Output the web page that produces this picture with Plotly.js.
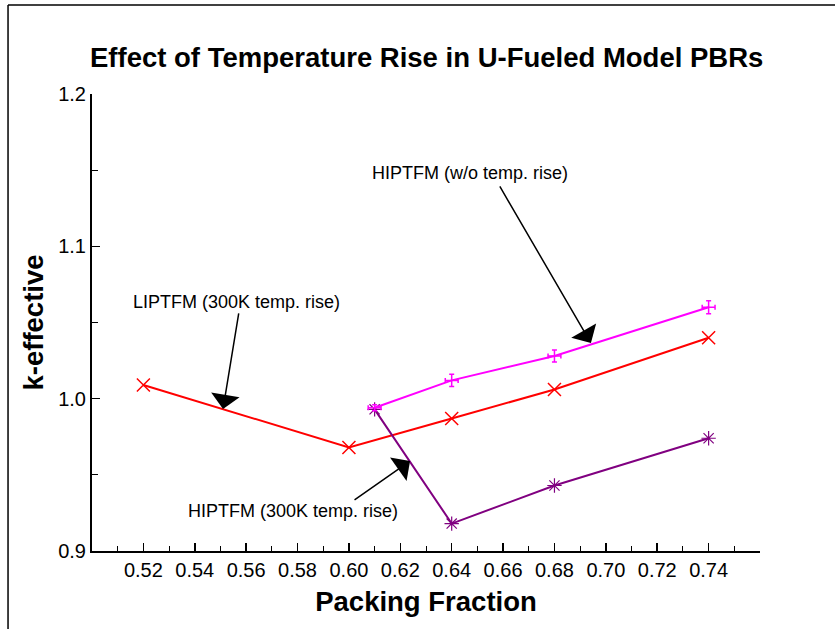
<!DOCTYPE html>
<html>
<head>
<meta charset="utf-8">
<script src="https://cdn.plot.ly/plotly-3.0.1.min.js"></script>
<style>html,body{margin:0;padding:0;background:#fff;}#chart{width:835px;height:629px;}</style>
</head>
<body>
<div id="chart"></div>
<script>
// Data
const lipX = [0.52, 0.60, 0.64, 0.68, 0.74];
const lipK = [1.009, 0.968, 0.987, 1.006, 1.040];

const hipNoRiseX = [0.61, 0.64, 0.68, 0.74];
const hipNoRiseK = [0.994, 1.012, 1.028, 1.060];
const hipNoRiseErr = [0.002, 0.004, 0.004, 0.0043];
const hipNoRiseErrX = [0.0025, 0.0025, 0.0025, 0.0025];

const hipRiseX = [0.61, 0.64, 0.68, 0.74];
const hipRiseK = [0.993, 0.918, 0.943, 0.974];

const xTickVals = [0.52, 0.54, 0.56, 0.58, 0.60, 0.62, 0.64, 0.66, 0.68, 0.70, 0.72, 0.74];
const xTickText = ["0.52","0.54","0.56","0.58","0.60","0.62","0.64","0.66","0.68","0.70","0.72","0.74"];
const yTickVals = [0.9, 1.0, 1.1, 1.2];
const yTickText = ["0.9", "1.0", "1.1", "1.2"];

const FONT = "Liberation Sans, Arial, Helvetica, sans-serif";

const traces = [
  {
    x: lipX, y: lipK, type: 'scatter', mode: 'lines+markers',
    line: {color: '#ff0000', width: 2},
    marker: {symbol: 'x-thin-open', size: 13, color: '#ff0000', line: {color: '#ff0000', width: 1.5}},
    showlegend: false
  },
  {
    x: hipRiseX, y: hipRiseK, type: 'scatter', mode: 'lines+markers',
    line: {color: '#800080', width: 2},
    marker: {symbol: 'asterisk-open', size: 12, color: '#800080', line: {color: '#800080', width: 1.2}},
    showlegend: false
  },
  {
    x: hipNoRiseX, y: hipNoRiseK, type: 'scatter', mode: 'lines',
    line: {color: '#ff00ff', width: 2},
    error_y: {type: 'data', array: hipNoRiseErr, visible: true, color: '#ff00ff', thickness: 1.5, width: 2.5},
    error_x: {type: 'data', array: hipNoRiseErrX, visible: true, color: '#ff00ff', thickness: 1.5, width: 2.5},
    showlegend: false
  }
];

const arrowCommon = {
  xref: 'x', yref: 'y', axref: 'x', ayref: 'y', text: '', showarrow: true,
  arrowhead: 1, arrowsize: 3.2, arrowwidth: 1.5, arrowcolor: '#000', standoff: 0, startstandoff: 0
};
const textCommon = {xref: 'x', yref: 'y', showarrow: false, font: {family: FONT, size: 18, color: '#000'}, xanchor: 'center', yanchor: 'middle'};

const layout = {
  width: 835, height: 629,
  paper_bgcolor: '#ffffff', plot_bgcolor: '#ffffff',
  margin: {l: 92, r: 75, t: 94, b: 78},
  font: {family: FONT, color: '#000'},
  title: {
    text: '<b>Effect of Temperature Rise in U-Fueled Model PBRs</b>',
    font: {family: FONT, size: 27.5, color: '#000'},
    x: 0.511, xanchor: 'center', xref: 'container',
    y: 0.909, yanchor: 'middle', yref: 'container'
  },
  xaxis: {
    range: [0.50, 0.76], showgrid: false, zeroline: false,
    showline: true, linecolor: '#000', linewidth: 2, mirror: false,
    tickmode: 'array', tickvals: xTickVals, ticktext: xTickText,
    ticks: 'inside', ticklen: 8, tickwidth: 1.5, tickcolor: '#000',
    minor: {dtick: 0.01, tick0: 0.5, ticks: 'inside', ticklen: 5, tickwidth: 1, tickcolor: '#000', showgrid: false},
    tickfont: {family: FONT, size: 20, color: '#000'},
    title: {text: '<b>Packing Fraction</b>', font: {family: FONT, size: 27.5, color: '#000'}, standoff: 12}
  },
  yaxis: {
    range: [0.9, 1.2], showgrid: false, zeroline: false,
    showline: true, linecolor: '#000', linewidth: 2, mirror: false,
    tickmode: 'array', tickvals: yTickVals, ticktext: yTickText,
    ticks: 'inside', ticklen: 8, tickwidth: 1.5, tickcolor: '#000',
    minor: {dtick: 0.05, tick0: 0.9, ticks: 'inside', ticklen: 6, tickwidth: 1, tickcolor: '#000', showgrid: false},
    tickfont: {family: FONT, size: 20, color: '#000'},
    title: {text: '<b>k-effective</b>', font: {family: FONT, size: 27.5, color: '#000'}, standoff: 7}
  },
  shapes: [
    {type: 'line', xref: 'paper', yref: 'paper', x0: -0.1257, x1: 1.2, y0: 1.1947, y1: 1.1947, line: {color: '#000', width: 1.5}},
    {type: 'line', xref: 'paper', yref: 'paper', x0: -0.1257, x1: -0.1257, y0: -0.2, y1: 1.1947, line: {color: '#000', width: 1.5}}
  ],
  annotations: [
    Object.assign({}, textCommon, {text: 'HIPTFM (w/o temp. rise)', x: 0.6471, y: 1.1481}),
    Object.assign({}, textCommon, {text: 'LIPTFM (300K temp. rise)', x: 0.5564, y: 1.0635}),
    Object.assign({}, textCommon, {text: 'HIPTFM (300K temp. rise)', x: 0.5784, y: 0.9263}),
    Object.assign({}, arrowCommon, {x: 0.6942, y: 1.0365, ax: 0.6584, ay: 1.1403}),
    Object.assign({}, arrowCommon, {x: 0.5510, y: 0.9932, ax: 0.5572, ay: 1.0569}),
    Object.assign({}, arrowCommon, {x: 0.6238, y: 0.9591, ax: 0.6016, ay: 0.9328})
  ]
};

Plotly.newPlot('chart', traces, layout, {displayModeBar: false, staticPlot: true});
</script>
</body>
</html>
